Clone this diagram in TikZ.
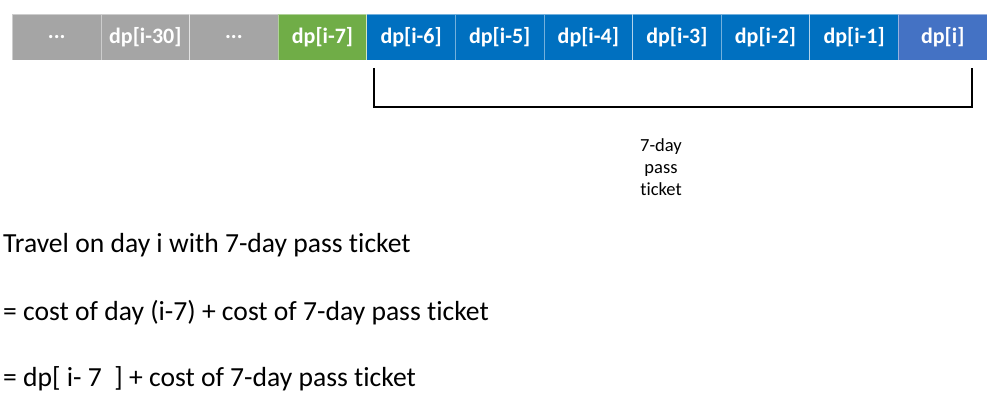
\documentclass[tikz,border=0pt]{standalone}
\usepackage{fontspec}
\setmainfont{Carlito}[Ligatures={NoCommon}]
\definecolor{cgray}{HTML}{A5A5A5}
\definecolor{cgreen}{HTML}{70AD47}
\definecolor{cblue}{HTML}{0070C0}
\definecolor{cblue2}{HTML}{4472C4}
\begin{document}
\begin{tikzpicture}[x=1pt,y=-1pt,
  cell/.style={minimum width=88.6pt,minimum height=46pt,inner sep=0pt,anchor=north west,
    draw=white,draw opacity=0.45,line width=0.8pt,text=white,font=\fontsize{22}{24}\selectfont\bfseries},
  eqtext/.style={anchor=west,inner sep=0pt,font=\fontsize{27.6}{30}\selectfont},
  lbl/.style={align=center,inner sep=0pt,font=\fontsize{18.5}{22}\selectfont}]
\useasboundingbox (0,0) rectangle (1000,417);
\def\cw{88.6}
\node[cell,fill=cgray]  (c1)  at (12+0*\cw,14) {...};
\node[cell,fill=cgray]  (c2)  at (12+1*\cw,14) {dp[i-30]};
\node[cell,fill=cgray]  (c3)  at (12+2*\cw,14) {...};
\node[cell,fill=cgreen] (c4)  at (12+3*\cw,14) {dp[i-7]};
\node[cell,fill=cblue]  (c5)  at (12+4*\cw,14) {dp[i-6]};
\node[cell,fill=cblue]  (c6)  at (12+5*\cw,14) {dp[i-5]};
\node[cell,fill=cblue]  (c7)  at (12+6*\cw,14) {dp[i-4]};
\node[cell,fill=cblue]  (c8)  at (12+7*\cw,14) {dp[i-3]};
\node[cell,fill=cblue]  (c9)  at (12+8*\cw,14) {dp[i-2]};
\node[cell,fill=cblue]  (c10) at (12+9*\cw,14) {dp[i-1]};
\node[cell,fill=cblue2] (c11) at (12+10*\cw,14) {dp[i]};
\coordinate (b1) at (374,68);
\coordinate (b2) at (374,107);
\coordinate (b3) at (972,107);
\coordinate (b4) at (972,68);
\draw[line width=2.2pt] (b1) -- (b2) -- (b3) -- (b4);
\node[lbl] (lab) at (661,167) {7-day\\pass\\ticket};
\node[eqtext] (t1) at (3,245) {Travel on day i with 7-day pass ticket};
\node[eqtext] (t2) at (3,313) {= cost of day (i-7) + cost of 7-day pass ticket};
\node[eqtext] (t3) at (3,379) {= dp[ i-\ 7 \ ] + cost of 7-day pass ticket};
\end{tikzpicture}
\end{document}
